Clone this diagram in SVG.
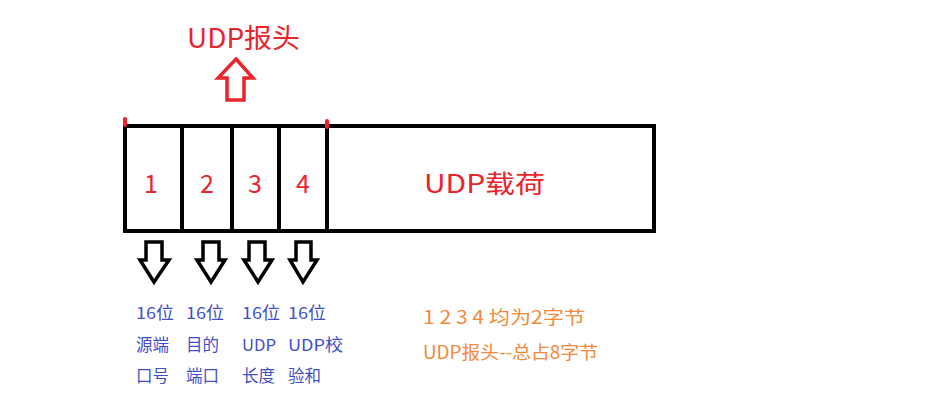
<svg xmlns="http://www.w3.org/2000/svg" width="939" height="406" viewBox="0 0 939 406">
<style>
.red{fill:#e8242c;font-family:"Noto Sans CJK SC","Noto Sans",sans-serif}
.blue{fill:#3f4fc6;font-family:"Noto Sans CJK SC","Noto Sans",sans-serif;font-size:16.5px}
.orange{fill:#f28a3a;font-family:"Noto Sans CJK SC","Noto Sans",sans-serif;font-size:18px}
.box{fill:none;stroke:#000;stroke-width:4}
.darr{fill:#fff;stroke:#000;stroke-width:3.5;stroke-linejoin:miter}
.tick{stroke:#e8242c;stroke-width:4;stroke-linecap:round}
</style>
<rect width="939" height="406" fill="#fff"/>
<g id="title">
<text class="red" x="187" y="48" font-size="27" textLength="113" lengthAdjust="spacingAndGlyphs">UDP报头</text>
</g>
<g id="up-arrow">
<path d="M236,59 L253,78 L244,78 L244,100 L227,100 L227,78 L218,78 Z" fill="#fff" stroke="#e8242c" stroke-width="3.5"/>
</g>
<g id="packet">
<rect class="box" x="125" y="126" width="529" height="105"/>
<line class="box" x1="182" y1="126" x2="182" y2="231"/>
<line class="box" x1="232" y1="126" x2="232" y2="231"/>
<line class="box" x1="279" y1="126" x2="279" y2="231"/>
<line class="box" x1="327" y1="126" x2="327" y2="231"/>
<line class="tick" x1="125" y1="119" x2="125" y2="125"/>
<line class="tick" x1="327" y1="121" x2="327" y2="127"/>
</g>
<g id="f1"><text class="red" x="151" y="193" font-size="25" text-anchor="middle">1</text></g>
<g id="f2"><text class="red" x="207" y="193" font-size="25" text-anchor="middle">2</text></g>
<g id="f3"><text class="red" x="255" y="193" font-size="25" text-anchor="middle">3</text></g>
<g id="f4"><text class="red" x="303" y="193" font-size="25" text-anchor="middle">4</text></g>
<g id="payload"><text class="red" x="424" y="193" font-size="25" textLength="121" lengthAdjust="spacingAndGlyphs">UDP载荷</text></g>
<g id="connectors">
<path class="darr" d="M146,242 L162,242 L162,260 L169,260 L154,282 L140,260 L146,260 Z"/>
<path class="darr" d="M203,242 L219,242 L219,260 L225,260 L211,282 L197,260 L203,260 Z"/>
<path class="darr" d="M249,242 L265,242 L265,260 L272,260 L258,282 L244,260 L249,260 Z"/>
<path class="darr" d="M296,242 L311,242 L311,260 L317,260 L303,282 L290,260 L296,260 Z"/>
</g>
<g id="d1">
<text class="blue" x="136" y="319" textLength="38" lengthAdjust="spacingAndGlyphs">16位</text>
<text class="blue" x="136" y="351">源端</text>
<text class="blue" x="136" y="382">口号</text>
</g>
<g id="d2">
<text class="blue" x="186" y="319" textLength="38" lengthAdjust="spacingAndGlyphs">16位</text>
<text class="blue" x="186" y="351">目的</text>
<text class="blue" x="186" y="382">端口</text>
</g>
<g id="d3">
<text class="blue" x="242" y="319" textLength="38" lengthAdjust="spacingAndGlyphs">16位</text>
<text class="blue" x="242" y="351" textLength="34" lengthAdjust="spacingAndGlyphs">UDP</text>
<text class="blue" x="242" y="382">长度</text>
</g>
<g id="d4">
<text class="blue" x="288" y="319" textLength="38" lengthAdjust="spacingAndGlyphs">16位</text>
<text class="blue" x="288" y="351" textLength="55" lengthAdjust="spacingAndGlyphs">UDP校</text>
<text class="blue" x="288" y="382">验和</text>
</g>
<g id="note">
<text class="orange" x="423" y="324" textLength="162" lengthAdjust="spacingAndGlyphs">1 2 3 4 均为2字节</text>
<text class="orange" x="423" y="359" textLength="175" lengthAdjust="spacingAndGlyphs">UDP报头--总占8字节</text>
</g>
</svg>
